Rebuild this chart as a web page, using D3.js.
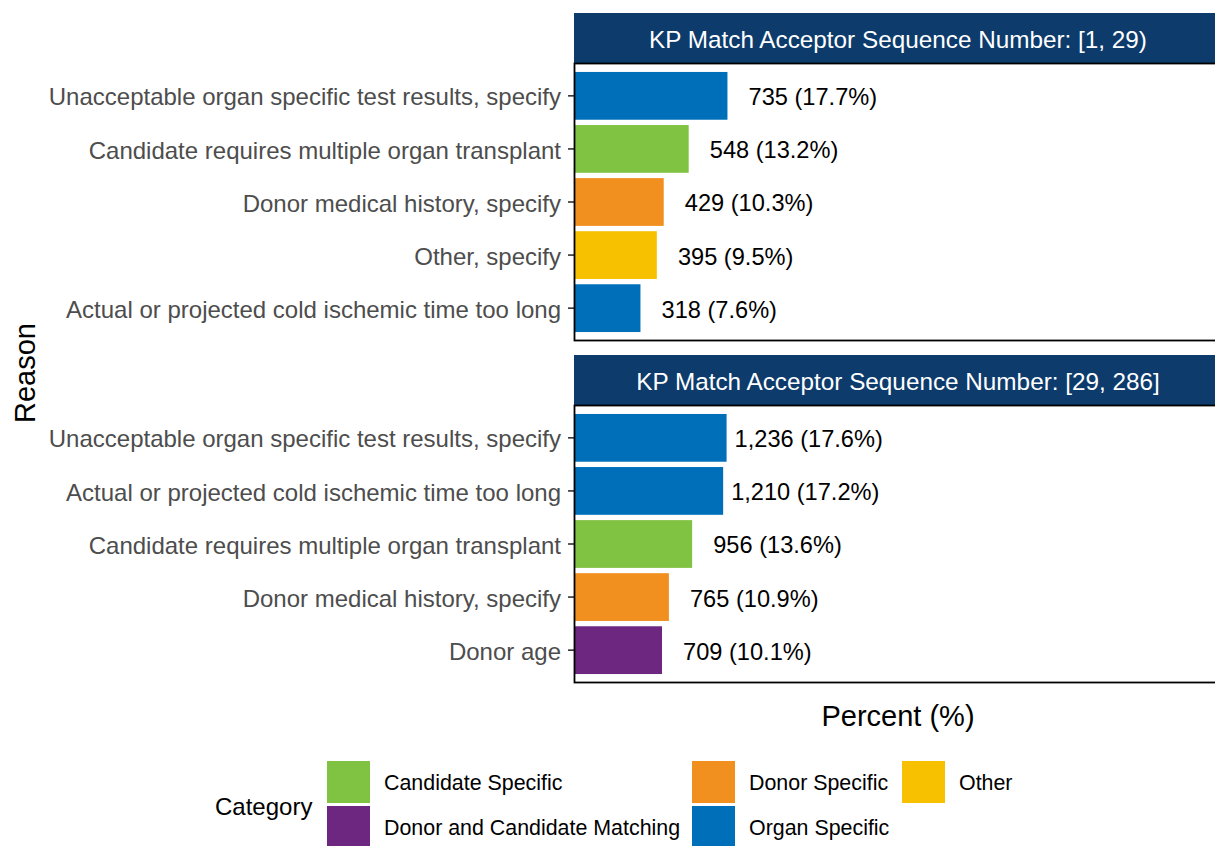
<!DOCTYPE html>
<html>
<head>
<meta charset="utf-8">
<script src="https://cdn.jsdelivr.net/npm/d3@7"></script>
<style>
  html, body { margin: 0; padding: 0; background: #ffffff; }
  svg { display: block; font-family: "Liberation Sans", Arial, Helvetica, sans-serif; }
</style>
</head>
<body>
<svg id="chart" width="1215" height="846"></svg>
<script>
// ---------- data ----------
const panelTitles = [
  "KP Match Acceptor Sequence Number: [1, 29)",
  "KP Match Acceptor Sequence Number: [29, 286]"
];
const reasons1 = [
  "Unacceptable organ specific test results, specify",
  "Candidate requires multiple organ transplant",
  "Donor medical history, specify",
  "Other, specify",
  "Actual or projected cold ischemic time too long"
];
const counts1 = [735, 548, 429, 395, 318];
const percents1 = [17.7, 13.2, 10.3, 9.5, 7.6];
const categories1 = ["Organ Specific", "Candidate Specific", "Donor Specific", "Other", "Organ Specific"];

const reasons2 = [
  "Unacceptable organ specific test results, specify",
  "Actual or projected cold ischemic time too long",
  "Candidate requires multiple organ transplant",
  "Donor medical history, specify",
  "Donor age"
];
const counts2 = [1236, 1210, 956, 765, 709];
const percents2 = [17.6, 17.2, 13.6, 10.9, 10.1];
const categories2 = ["Organ Specific", "Organ Specific", "Candidate Specific", "Donor Specific", "Donor and Candidate Matching"];

const legendCategories = ["Candidate Specific", "Donor and Candidate Matching", "Donor Specific", "Organ Specific", "Other"];
const categoryColors = ["#80C342", "#6E2780", "#F18F1F", "#006FB9", "#F7C100"];

// ---------- layout ----------
const svg = d3.select("#chart");
const panelLeft = 575, panelRight = 1221;
const panels = [
  { stripTop: 13, top: 64, bottom: 340, reasons: reasons1, counts: counts1, pcts: percents1, cats: categories1, title: panelTitles[0] },
  { stripTop: 355, top: 406, bottom: 682, reasons: reasons2, counts: counts2, pcts: percents2, cats: categories2, title: panelTitles[1] }
];

const x = d3.scaleLinear().domain([0, 75]).range([panelLeft, panelRight]);
const color = d3.scaleOrdinal().domain(legendCategories).range(categoryColors);
const fmtLabel = (n, p) => d3.format(",")(n).padStart(5, "\u00A0") + " (" + p.toFixed(1) + "%)";

panels.forEach(p => {
  const data = p.reasons.map((r, i) => ({ reason: r, count: p.counts[i], pct: p.pcts[i], cat: p.cats[i] }));
  const y = d3.scaleBand().domain(p.reasons).range([p.top, p.bottom]).paddingInner(0.1).paddingOuter(0.15);

  // strip
  svg.append("rect")
    .attr("x", panelLeft - 1).attr("y", p.stripTop)
    .attr("width", panelRight - panelLeft + 1).attr("height", p.top - p.stripTop)
    .attr("fill", "#0C3B6C");
  svg.append("text")
    .attr("x", (panelLeft + panelRight) / 2).attr("y", (p.stripTop + p.top) / 2)
    .attr("dy", "0.38em").attr("text-anchor", "middle")
    .attr("fill", "#ffffff").attr("font-size", 24.3)
    .text(p.title);

  // bars
  const g = svg.append("g");
  g.selectAll("rect.bar").data(data).join("rect")
    .attr("class", "bar")
    .attr("x", x(0)).attr("y", d => y(d.reason))
    .attr("width", d => x(d.pct) - x(0)).attr("height", y.bandwidth())
    .attr("fill", d => color(d.cat));

  // value labels
  g.selectAll("text.val").data(data).join("text")
    .attr("class", "val")
    .attr("x", d => x(d.pct) + 8)
    .attr("y", d => y(d.reason) + y.bandwidth() / 2)
    .attr("dy", "0.4em")
    .attr("font-size", 23.6).attr("fill", "#000000")
    .text(d => fmtLabel(d.count, d.pct));

  // y axis
  const yAxis = d3.axisLeft(y).tickSize(7).tickPadding(7);
  const ag = svg.append("g").attr("transform", `translate(${panelLeft},0)`).call(yAxis);
  ag.select(".domain").remove();
  ag.selectAll(".tick line").attr("stroke", "#333333").attr("stroke-width", 1.6);
  ag.selectAll(".tick text")
    .attr("fill", "#4D4D4D").attr("font-size", 24)
    .attr("dy", "0.4em")
    .attr("font-family", "Liberation Sans, Arial, sans-serif");

  // panel border
  svg.append("rect")
    .attr("x", panelLeft - 0.5).attr("y", p.top - 0.5)
    .attr("width", panelRight - panelLeft + 10).attr("height", p.bottom - p.top + 1)
    .attr("fill", "none").attr("stroke", "#000000").attr("stroke-width", 1.8);
});

// axis titles
svg.append("text")
  .attr("x", (panelLeft + panelRight) / 2).attr("y", 726)
  .attr("text-anchor", "middle").attr("font-size", 29).attr("fill", "#000")
  .text("Percent (%)");
svg.append("text")
  .attr("transform", "translate(35,373) rotate(-90)")
  .attr("text-anchor", "middle").attr("font-size", 29).attr("fill", "#000")
  .text("Reason");

// legend
const legend = svg.append("g");
legend.append("text")
  .attr("x", 215).attr("y", 806).attr("dy", "0.38em")
  .attr("font-size", 24).attr("fill", "#000")
  .text("Category");
const colX = [327, 692, 902];
const rowY = [761, 806];
const keyW = 43, keyH = 42;
const items = legendCategories.map((c, i) => ({ cat: c, col: Math.floor(i / 2), row: i % 2 }));
const li = legend.selectAll("g.item").data(items).join("g").attr("class", "item")
  .attr("transform", d => `translate(${colX[d.col]},${rowY[d.row]})`);
li.append("rect").attr("width", keyW).attr("height", keyH).attr("fill", d => color(d.cat));
li.append("text")
  .attr("x", keyW + 14).attr("y", keyH / 2).attr("dy", "0.38em")
  .attr("font-size", 21.4).attr("fill", "#000")
  .text(d => d.cat);
</script>
</body>
</html>
